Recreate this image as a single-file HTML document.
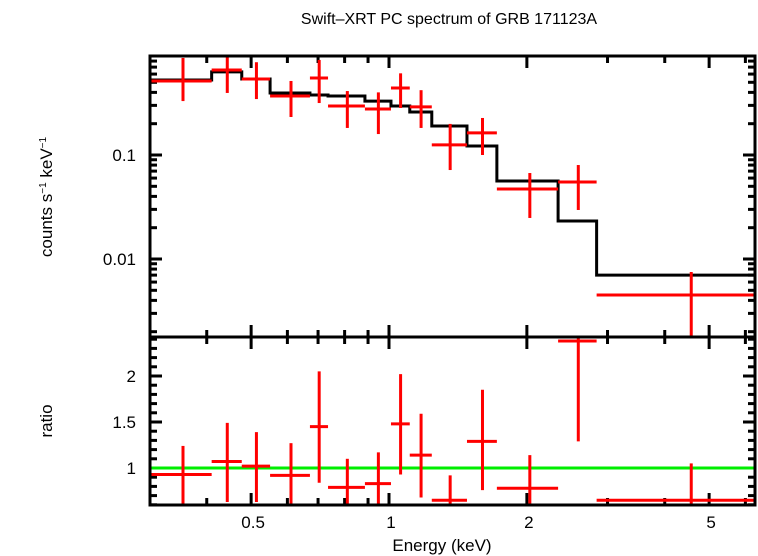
<!DOCTYPE html>
<html><head><meta charset="utf-8"><style>
body{margin:0;background:#fff;}
svg{display:block;font-family:"Liberation Sans",Arial,sans-serif;}
</style></head><body>
<svg id="c" width="758" height="556" viewBox="0 0 758 556">
<text x="449" y="24" font-size="16" text-anchor="middle">Swift–XRT PC spectrum of GRB 171123A</text>
<g id="g"></g>
<text x="442" y="551" font-size="17" text-anchor="middle">Energy (keV)</text>
<text transform="translate(52,197) rotate(-90)" font-size="17" text-anchor="middle">counts s<tspan font-size="10" dy="-6">−1</tspan><tspan dy="6"> keV</tspan><tspan font-size="10" dy="-6">−1</tspan></text>
<text transform="translate(52,421) rotate(-90)" font-size="17" text-anchor="middle">ratio</text>
</svg>
<script>
const edges=[0.30,0.41,0.477,0.55,0.672,0.736,0.886,1.01,1.11,1.24,1.48,1.72,2.34,2.84,6.3];
const counts=[0.515,0.657,0.538,0.369,0.55,0.296,0.277,0.441,0.29,0.125,0.163,0.0471,0.055,0.00451];
const countsLo=[0.33,0.395,0.345,0.232,0.316,0.182,0.159,0.283,0.182,0.0717,0.1,0.0248,0.0296,0.0015];
const countsHi=[0.857,0.91,0.78,0.515,0.82,0.412,0.40,0.61,0.42,0.199,0.227,0.0671,0.0801,0.0075];
const model=[0.526,0.63,0.538,0.395,0.378,0.369,0.33,0.296,0.259,0.19,0.122,0.0562,0.0232,0.0070];
const ratio=[0.93,1.07,1.02,0.92,1.45,0.79,0.83,1.48,1.14,0.65,1.29,0.78,2.38,0.65];
const ratioLo=[0.41,0.63,0.63,0.54,0.84,0.6,0.6,0.93,0.68,0.5,0.76,0.5,1.29,0.5];
const ratioHi=[1.24,1.49,1.39,1.27,2.05,1.10,1.17,2.02,1.59,0.92,1.85,1.14,2.6,1.05];
const xTicks=[0.5,1,2,5];
const yTicksTop=[0.01,0.1];
const yTicksBot=[1,1.5,2];

const L=150,R=755,T1=56,B1=337,B2=505;
const X=e=>389+458*Math.log10(e);
const Y1=v=>155-104*(Math.log10(v)+1);
const Y2=r=>468-92*(r-1);
const g=document.getElementById('g');
const NS='http://www.w3.org/2000/svg';
function el(t,a,name){const e=document.createElementNS(NS,t);for(const k in a)e.setAttribute(k,a[k]);


g.appendChild(e);return e;}
function ln(x1,y1,x2,y2,c,w,name){return el('line',{x1,y1,x2,y2,stroke:c,'stroke-width':w},name);}
function cl(v,a,b){return Math.max(a,Math.min(b,v));}
for(let d=-1;d<=0;d++)for(let m=1;m<10;m++){const e=m*Math.pow(10,d);const x=X(e);if(x<L||x>R)continue;
 const major=xTicks.includes(+e.toFixed(3));const s=major?12:7;
 [[T1,1],[B1,-1],[B1,1],[B2,-1]].forEach(([y,dir])=>ln(x,y,x,y+dir*s,'#000',3,'x-tick'));
}
xTicks.forEach(v=>{const t=el('text',{x:X(v)+2,y:528,'font-size':17,'text-anchor':'middle'},'x-tick-label');t.textContent=String(v);});
for(let d=-3;d<=0;d++)for(let m=1;m<10;m++){const v=m*Math.pow(10,d);const y=Y1(v);if(y<T1||y>B1)continue;
 const s=m==1?12:7;ln(L,y,L+s,y,'#000',3,'y-tick-top');ln(R,y,R-s,y,'#000',3,'y-tick-top');}
yTicksTop.forEach(v=>{const t=el('text',{x:136,y:Y1(v)+6,'font-size':17,'text-anchor':'end'},'y-tick-label-top');t.textContent=String(v);});
for(let i=6;i<=24;i++){const r=i/10;const y=Y2(r);if(y<B1||y>B2)continue;const s=(i%5==0)?12:7;
 ln(L,y,L+s,y,'#000',3,'y-tick-bottom');ln(R,y,R-s,y,'#000',3,'y-tick-bottom');}
yTicksBot.forEach(v=>{const t=el('text',{x:136,y:Y2(v)+6,'font-size':17,'text-anchor':'end'},'y-tick-label-bottom');t.textContent=String(v);});
let p='';model.forEach((m,i)=>{const y=Y1(m);p+=(i?'L':'M')+X(edges[i])+','+y+'L'+X(edges[i+1])+','+y;});
el('path',{d:p,fill:'none',stroke:'#000','stroke-width':3},'model-line');
counts.forEach((v,i)=>{const x0=X(edges[i]),x1=X(edges[i+1]),xc=X((edges[i]+edges[i+1])/2);
 ln(x0,Y1(v),x1,Y1(v),'#f00',3,'data-point-xerr');
 ln(xc,cl(Y1(countsHi[i]),T1,B1),xc,cl(Y1(countsLo[i]),T1,B1),'#f00',3,'data-point-yerr');});
ln(L,Y2(1),R,Y2(1),'#0e0',3,'unity-line');
ratio.forEach((v,i)=>{const x0=X(edges[i]),x1=X(edges[i+1]),xc=X((edges[i]+edges[i+1])/2);
 ln(x0,cl(Y2(v),B1,B2),x1,cl(Y2(v),B1,B2),'#f00',3,'ratio-point-xerr');
 ln(xc,cl(Y2(ratioHi[i]),B1,B2),xc,cl(Y2(ratioLo[i]),B1,B2),'#f00',3,'ratio-point-yerr');});
el('rect',{x:L,y:T1,width:R-L,height:B1-T1,fill:'none',stroke:'#000','stroke-width':3},'top-panel-frame');
el('rect',{x:L,y:B1,width:R-L,height:B2-B1,fill:'none',stroke:'#000','stroke-width':3},'bottom-panel-frame');
</script>
</body></html>
